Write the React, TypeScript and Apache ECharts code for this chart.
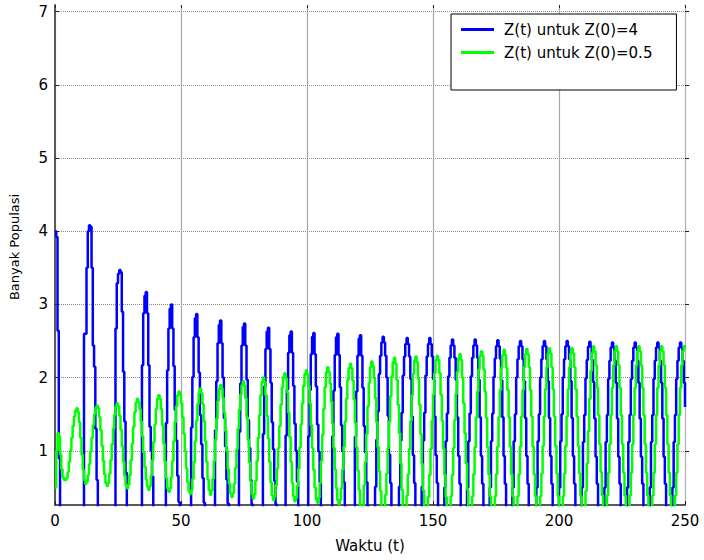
import { useEffect, useRef } from "react";
import * as echarts from "echarts";

// Sampling interval of both simulated runs (time units per sample)
const STEP = 0.5;

// Z(t) for Z(0) = 4, one sample every STEP from t = 0 to t = 250 (20 samples per row)
const zFromFour = [
  4.0, 3.92, 2.64, 0.9, 0.1, 0.04, 0.04, 0.04, 0.04, 0.04, 0.04, 0.04, 0.04, 0.04, 0.04, 0.04, 0.04, 0.04, 0.04, 0.04,
  0.04, 0.04, 0.04, 2.6, 2.6, 3.5, 4.0, 4.08, 4.06, 3.5, 2.44, 2.15, 1.3, 0.6, 0.2, 0.04, 0.04, 0.04, 0.04, 0.04,
  0.04, 0.04, 0.04, 0.04, 0.04, 0.04, 0.04, 0.04, 2.67, 3.29, 3.42, 3.47, 3.44, 2.9, 2.08, 1.4, 0.7, 0.2, 0.04, 0.04,
  0.04, 0.04, 0.04, 0.04, 0.04, 0.04, 0.04, 0.04, 0.04, 2.17, 2.88, 3.12, 3.17, 2.88, 2.17, 1.33, 1.0, 0.65, 0.15, 0.04,
  0.04, 0.04, 0.04, 0.04, 0.04, 0.04, 0.04, 0.04, 1.38, 2.1, 2.67, 2.94, 3.0, 2.67, 2.16, 1.56, 1.14, 0.66, 0.3, 0.04,
  0.04, 0.04, 0.04, 0.04, 0.04, 0.04, 0.04, 0.04, 1.32, 2.01, 2.55, 2.81, 2.87, 2.55, 2.07, 1.49, 1.09, 0.63, 0.29, 0.04,
  0.04, 0.04, 0.04, 0.04, 0.04, 0.04, 0.04, 1.28, 1.95, 2.47, 2.72, 2.78, 2.47, 2.0, 1.45, 1.06, 0.61, 0.28, 0.04, 0.04,
  0.04, 0.04, 0.04, 0.04, 0.04, 0.04, 1.26, 1.92, 2.44, 2.69, 2.74, 2.44, 1.97, 1.42, 1.04, 0.6, 0.27, 0.04, 0.04, 0.04,
  0.04, 0.04, 0.04, 0.04, 0.04, 1.23, 1.88, 2.39, 2.63, 2.68, 2.39, 1.93, 1.39, 1.02, 0.59, 0.27, 0.04, 0.04, 0.04, 0.04,
  0.04, 0.04, 0.04, 1.21, 1.84, 2.34, 2.58, 2.63, 2.34, 1.89, 1.37, 1.0, 0.58, 0.24, 0.04, 0.04, 0.04, 0.04, 0.04, 0.04,
  0.04, 1.2, 1.83, 2.32, 2.56, 2.61, 2.32, 1.88, 1.36, 0.99, 0.57, 0.24, 0.04, 0.04, 0.04, 0.04, 0.04, 0.04, 0.04, 0.04,
  1.2, 1.82, 2.31, 2.55, 2.6, 2.31, 1.87, 1.35, 0.99, 0.57, 0.24, 0.04, 0.04, 0.04, 0.04, 0.04, 0.04, 0.04, 1.19, 1.81,
  2.3, 2.53, 2.58, 2.3, 1.86, 1.34, 0.98, 0.57, 0.24, 0.04, 0.04, 0.04, 0.04, 0.04, 0.51, 1.15, 1.54, 2.05, 2.3, 2.48,
  2.56, 2.48, 2.3, 2.0, 1.48, 0.95, 0.56, 0.04, 0.04, 0.04, 0.04, 0.04, 0.04, 0.51, 1.14, 1.52, 2.03, 2.29, 2.46, 2.54,
  2.46, 2.29, 1.98, 1.47, 0.94, 0.56, 0.04, 0.04, 0.04, 0.04, 0.04, 0.51, 1.14, 1.52, 2.03, 2.29, 2.46, 2.54, 2.46, 2.29,
  1.98, 1.47, 0.94, 0.56, 0.04, 0.04, 0.04, 0.04, 0.04, 0.5, 1.13, 1.51, 2.02, 2.27, 2.44, 2.52, 2.44, 2.27, 1.97, 1.46,
  0.93, 0.55, 0.04, 0.04, 0.04, 0.04, 0.04, 0.5, 1.13, 1.51, 2.02, 2.27, 2.44, 2.52, 2.44, 2.27, 1.97, 1.46, 0.93, 0.55,
  0.04, 0.04, 0.04, 0.04, 0.04, 0.5, 1.13, 1.51, 2.01, 2.26, 2.43, 2.51, 2.43, 2.26, 1.96, 1.46, 0.93, 0.55, 0.04, 0.04,
  0.04, 0.04, 0.04, 0.5, 1.13, 1.5, 2.0, 2.25, 2.43, 2.5, 2.43, 2.25, 1.95, 1.45, 0.93, 0.55, 0.04, 0.04, 0.04, 0.04,
  0.04, 0.04, 0.5, 1.13, 1.5, 2.0, 2.25, 2.43, 2.5, 2.43, 2.25, 1.95, 1.45, 0.93, 0.55, 0.04, 0.04, 0.04, 0.04, 0.04,
  0.5, 1.13, 1.5, 2.0, 2.25, 2.43, 2.5, 2.43, 2.25, 1.95, 1.45, 0.93, 0.55, 0.04, 0.04, 0.04, 0.04, 0.04, 0.5, 1.12,
  1.49, 1.99, 2.24, 2.42, 2.49, 2.42, 2.24, 1.94, 1.44, 0.92, 0.55, 0.04, 0.04, 0.04, 0.04, 0.04, 0.5, 1.12, 1.49, 1.98,
  2.23, 2.41, 2.48, 2.41, 2.23, 1.93, 1.44, 0.92, 0.55, 0.04, 0.04, 0.04, 0.04, 0.04, 0.5, 1.12, 1.49, 1.98, 2.23, 2.41,
  2.48, 2.41, 2.23, 1.93, 1.44, 0.92, 0.55, 0.04, 0.04, 0.04, 0.04, 0.04, 0.5, 1.12, 1.49, 1.98, 2.23, 2.41, 2.48, 2.41,
  2.23, 1.93, 1.44, 0.92, 0.55, 0.04, 0.04, 0.04, 0.04, 0.04, 0.5, 1.12, 1.49, 1.98, 2.23, 2.41, 2.48, 2.41, 2.23, 1.93,
  1.6,
];

// Z(t) for Z(0) = 0.5, same sampling
const zFromHalf = [
  0.5, 1.0, 1.24, 1.2, 0.95, 0.75, 0.64, 0.6, 0.6, 0.63, 0.71, 0.85, 1.0, 1.18, 1.34, 1.47, 1.55, 1.58, 1.53, 1.39,
  1.18, 0.95, 0.74, 0.6, 0.55, 0.58, 0.67, 0.82, 0.99, 1.18, 1.35, 1.5, 1.59, 1.62, 1.58, 1.46, 1.28, 1.07, 0.86, 0.68,
  0.56, 0.52, 0.56, 0.69, 0.87, 1.09, 1.3, 1.49, 1.61, 1.65, 1.61, 1.48, 1.29, 1.07, 0.85, 0.66, 0.53, 0.49, 0.54, 0.67,
  0.87, 1.1, 1.33, 1.53, 1.66, 1.71, 1.67, 1.57, 1.4, 1.2, 0.98, 0.78, 0.61, 0.51, 0.47, 0.52, 0.66, 0.87, 1.12, 1.36,
  1.57, 1.71, 1.76, 1.71, 1.57, 1.35, 1.1, 0.85, 0.63, 0.49, 0.44, 0.49, 0.64, 0.86, 1.13, 1.39, 1.61, 1.76, 1.81, 1.77,
  1.65, 1.46, 1.23, 0.99, 0.76, 0.57, 0.45, 0.41, 0.46, 0.62, 0.85, 1.13, 1.41, 1.64, 1.79, 1.85, 1.79, 1.64, 1.4, 1.13,
  0.85, 0.61, 0.46, 0.4, 0.46, 0.62, 0.86, 1.15, 1.44, 1.68, 1.84, 1.9, 1.85, 1.72, 1.52, 1.27, 1.0, 0.75, 0.55, 0.42,
  0.37, 0.42, 0.55, 0.77, 1.02, 1.3, 1.56, 1.77, 1.9, 1.95, 1.89, 1.72, 1.46, 1.15, 0.84, 0.58, 0.41, 0.35, 0.41, 0.59,
  0.86, 1.18, 1.49, 1.76, 1.94, 2.0, 1.94, 1.76, 1.48, 1.17, 0.85, 0.57, 0.39, 0.33, 0.38, 0.53, 0.76, 1.04, 1.34, 1.63,
  1.86, 2.01, 2.06, 1.99, 1.8, 1.52, 1.19, 0.85, 0.56, 0.38, 0.31, 0.36, 0.52, 0.76, 1.05, 1.36, 1.65, 1.89, 2.05, 2.1,
  2.05, 1.89, 1.65, 1.35, 1.04, 0.74, 0.5, 0.34, 0.29, 0.36, 0.56, 0.86, 1.22, 1.57, 1.87, 2.07, 2.14, 2.08, 1.92, 1.67,
  1.37, 1.04, 0.74, 0.49, 0.33, 0.27, 0.33, 0.49, 0.75, 1.06, 1.4, 1.71, 1.97, 2.13, 2.19, 2.13, 1.96, 1.7, 1.38, 1.05,
  0.73, 0.47, 0.25, 0.15, 0.25, 0.53, 0.85, 1.23, 1.61, 1.93, 2.14, 2.22, 2.16, 1.99, 1.72, 1.39, 1.05, 0.72, 0.45, 0.2,
  0.12, 0.2, 0.4, 0.69, 1.04, 1.4, 1.75, 2.02, 2.21, 2.27, 2.19, 1.97, 1.63, 1.24, 0.83, 0.47, 0.22, 0.11, 0.18, 0.39,
  0.68, 1.03, 1.41, 1.76, 2.05, 2.23, 2.29, 2.21, 1.98, 1.63, 1.23, 0.82, 0.46, 0.2, 0.1, 0.17, 0.37, 0.67, 1.03, 1.41,
  1.77, 2.06, 2.24, 2.3, 2.24, 2.06, 1.77, 1.41, 1.03, 0.67, 0.37, 0.17, 0.1, 0.17, 0.38, 0.67, 1.04, 1.42, 1.78, 2.08,
  2.26, 2.32, 2.24, 2.0, 1.65, 1.24, 0.83, 0.47, 0.2, 0.1, 0.17, 0.38, 0.68, 1.05, 1.45, 1.81, 2.11, 2.3, 2.36, 2.3,
  2.11, 1.81, 1.45, 1.05, 0.68, 0.38, 0.17, 0.1, 0.17, 0.38, 0.68, 1.06, 1.46, 1.83, 2.13, 2.31, 2.38, 2.31, 2.13, 1.83,
  1.46, 1.06, 0.68, 0.38, 0.17, 0.1, 0.17, 0.38, 0.68, 1.06, 1.47, 1.83, 2.14, 2.32, 2.39, 2.32, 2.14, 1.83, 1.47, 1.06,
  0.68, 0.38, 0.17, 0.1, 0.17, 0.38, 0.69, 1.07, 1.47, 1.84, 2.14, 2.33, 2.4, 2.33, 2.14, 1.84, 1.47, 1.07, 0.69, 0.38,
  0.17, 0.1, 0.17, 0.38, 0.69, 1.07, 1.47, 1.84, 2.14, 2.33, 2.4, 2.33, 2.14, 1.84, 1.47, 1.07, 0.69, 0.38, 0.17, 0.1,
  0.19, 0.45, 0.83, 1.27, 1.71, 2.09, 2.34, 2.43, 2.36, 2.17, 1.86, 1.49, 1.09, 0.71, 0.39, 0.18, 0.1, 0.17, 0.39, 0.7,
  1.09, 1.49, 1.86, 2.17, 2.36, 2.43, 2.36, 2.17, 1.86, 1.49, 1.09, 0.7, 0.39, 0.17, 0.1, 0.17, 0.39, 0.7, 1.09, 1.49,
  1.86, 2.17, 2.36, 2.43, 2.36, 2.17, 1.86, 1.49, 1.09, 0.7, 0.39, 0.17, 0.1, 0.17, 0.39, 0.7, 1.09, 1.49, 1.86, 2.17,
  2.36, 2.43, 2.36, 2.17, 1.86, 1.49, 1.09, 0.7, 0.39, 0.17, 0.1, 0.17, 0.39, 0.7, 1.09, 1.49, 1.86, 2.17, 2.36, 2.43,
  2.4,
];

const seriesNames = ["Z(t) untuk Z(0)=4", "Z(t) untuk Z(0)=0.5"];
const seriesColors = ["#0000ff", "#00ff00"];
const yTickValues = [1, 2, 3, 4, 5, 6, 7];
const xTitle = "Waktu (t)";
const yTitle = "Banyak Populasi";

const FONT = "'DejaVu Sans', 'Liberation Sans', sans-serif";

function toPoints(values: number[]): [number, number][] {
  return values.map((v, i) => [i * STEP, v]);
}

export default function App() {
  const ref = useRef<HTMLDivElement>(null);

  useEffect(() => {
    if (!ref.current) return;
    const chart = echarts.init(ref.current, undefined, { renderer: "svg" });

    const yRange = { min: 0.26, max: 7.09 };

    chart.setOption({
      animation: false,
      backgroundColor: "#ffffff",
      grid: { left: 55, right: 19, top: 5, bottom: 55 },
      legend: {
        orient: "vertical",
        left: 451,
        top: 14,
        data: seriesNames.map((name) => ({ name, icon: "rect" })),
        backgroundColor: "#ffffff",
        borderColor: "#000000",
        borderWidth: 1,
        borderRadius: 0,
        padding: [8, 24, 30, 10],
        itemWidth: 33,
        itemHeight: 3,
        itemGap: 8,
        itemStyle: { borderWidth: 0 },
        textStyle: {
          fontFamily: FONT,
          fontSize: 15,
          lineHeight: 15,
          color: "#000000",
          padding: [0, 0, 0, 5],
        },
      },
      xAxis: [
        {
          type: "value",
          position: "bottom",
          min: 0,
          max: 250,
          interval: 50,
          name: xTitle,
          nameLocation: "middle",
          nameGap: 33,
          nameTextStyle: { fontFamily: FONT, fontSize: 15, color: "#000000" },
          axisLine: { show: true, onZero: false, lineStyle: { color: "#5a5a5a", width: 2 } },
          axisTick: { show: true, inside: true, length: 4, lineStyle: { color: "#222222" } },
          axisLabel: { margin: 8, fontFamily: FONT, fontSize: 15, color: "#000000" },
          splitLine: { show: true, lineStyle: { color: "#a8a8a8", width: 1.2, type: "solid" } },
        },
        {
          type: "value",
          position: "top",
          min: 0,
          max: 250,
          interval: 50,
          axisLine: { show: false },
          axisTick: { show: true, inside: true, length: 3, lineStyle: { color: "#222222" } },
          axisLabel: { show: false },
          splitLine: { show: false },
        },
      ],
      yAxis: [
        {
          type: "value",
          position: "left",
          ...yRange,
          name: yTitle,
          nameLocation: "middle",
          nameGap: 34,
          nameTextStyle: {
            fontFamily: FONT,
            fontSize: 13,
            color: "#000000",
            padding: [0, 0, 0, 16],
          },
          axisLine: { show: true, onZero: false, lineStyle: { color: "#5a5a5a", width: 2 } },
          axisTick: {
            show: true,
            inside: true,
            length: 4,
            customValues: yTickValues,
            lineStyle: { color: "#222222" },
          },
          axisLabel: {
            margin: 7,
            fontFamily: FONT,
            fontSize: 15,
            color: "#000000",
            customValues: yTickValues,
          },
          splitLine: { show: true, lineStyle: { color: "#8a8a8a", width: 1, type: "dotted" } },
        },
        {
          type: "value",
          position: "right",
          ...yRange,
          axisLine: { show: true, onZero: false, lineStyle: { color: "#b0b0b0", width: 1 } },
          axisTick: {
            show: true,
            inside: false,
            length: 4,
            customValues: yTickValues,
            lineStyle: { color: "#222222" },
          },
          axisLabel: { show: false, customValues: yTickValues },
          splitLine: { show: false },
        },
      ],
      series: [
        {
          name: seriesNames[0],
          type: "line",
          xAxisIndex: 0,
          yAxisIndex: 0,
          step: "end",
          data: toPoints(zFromFour),
          symbol: "none",
          clip: true,
          color: seriesColors[0],
          lineStyle: { color: seriesColors[0], width: 2.5 },
        },
        {
          name: seriesNames[1],
          type: "line",
          xAxisIndex: 0,
          yAxisIndex: 0,
          step: "end",
          data: toPoints(zFromHalf),
          symbol: "none",
          clip: true,
          color: seriesColors[1],
          lineStyle: { color: seriesColors[1], width: 2.5 },
        },
      ],
    });

    return () => chart.dispose();
  }, []);

  return (
    <div
      ref={ref}
      style={{ position: "fixed", left: 0, top: 0, width: 704, height: 560, background: "#fff" }}
    />
  );
}
